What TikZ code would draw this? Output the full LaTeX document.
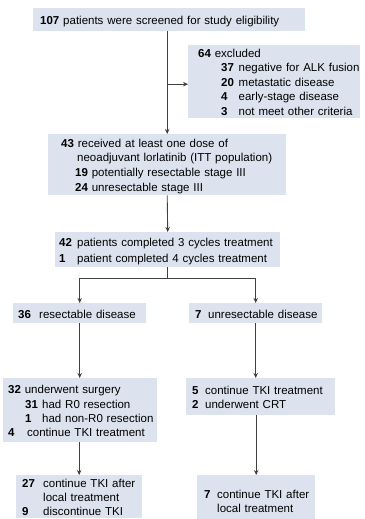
\documentclass[tikz,border=0pt]{standalone}
\usepackage{fontspec}
\setmainfont{Liberation Sans}
\usetikzlibrary{arrows.meta}
\definecolor{boxfill}{HTML}{DCE3EE}
\definecolor{linecol}{HTML}{404040}
\newcommand{\mystrut}{\rule[-2.2pt]{0pt}{14pt}}
\newcommand{\rowl}[3]{\mbox{\hspace*{#1}\textbf{#2} #3\mystrut}}
\newcommand{\rowc}[4]{\mbox{\hspace*{#1}\makebox[#2][l]{\textbf{#3}}#4\mystrut}}
\begin{document}
\begin{tikzpicture}[x=1pt,y=-1pt,
  box/.style={fill=boxfill, anchor=north west, inner sep=0pt, align=left,
    font=\fontsize{11.5}{14}\selectfont},
  conn/.style={draw=linecol, line width=0.9pt},
  arr/.style={conn, -{Stealth[length=5pt,width=4.5pt]}}]
\clip (0,0) rectangle (364,519);
\fill[white] (0,0) rectangle (364,519);

\node[box, text width=272pt, minimum height=23pt] (b1) at (33,8)
  {\rowl{7pt}{107}{patients were screened for study eligibility}};

\node[box, text width=172pt, minimum height=73pt] (excl) at (188,45)
  {\rowl{10pt}{64}{excluded}\\
   \rowc{33pt}{17.5pt}{37}{negative for ALK fusion}\\
   \rowc{33pt}{17.5pt}{20}{metastatic disease}\\
   \rowc{33pt}{17.5pt}{4}{early-stage disease}\\
   \rowc{33pt}{17.5pt}{3}{not meet other criteria}};

\node[box, text width=238pt, minimum height=61pt] (b2) at (48,134)
  {\rowl{13pt}{43}{received at least one dose of}\\
   \mbox{\hspace*{29pt}neoadjuvant lorlatinib (ITT population)\mystrut}\\
   \rowl{27pt}{19}{potentially resectable stage III}\\
   \rowl{27pt}{24}{unresectable stage III}};

\node[box, text width=225pt, minimum height=35pt] (b3) at (55,232)
  {\rowc{4pt}{18pt}{42}{patients completed 3 cycles treatment}\\
   \rowc{4pt}{18pt}{1}{patient completed 4 cycles treatment}};

\node[box, text width=133pt, minimum height=20pt] (b36) at (13,303)
  {\rowc{5pt}{21pt}{36}{resectable disease}};

\node[box, text width=133pt, minimum height=20pt] (b7u) at (189,303)
  {\rowc{6pt}{13pt}{7}{unresectable disease}};

\node[box, text width=154pt, minimum height=64pt] (b32) at (3,378)
  {\rowl{5pt}{32}{underwent surgery}\\
   \rowc{22pt}{17pt}{31}{had R0 resection}\\
   \rowc{22pt}{17pt}{1}{had non-R0 resection}\\
   \rowc{5pt}{19pt}{4}{continue TKI treatment}};

\node[box, text width=149pt, minimum height=37pt] (b5) at (186,378)
  {\rowc{6pt}{13pt}{5}{continue TKI treatment}\\
   \rowc{6pt}{13pt}{2}{underwent CRT}};

\node[box, text width=126pt, minimum height=43pt] (b27) at (16,475)
  {\rowc{6pt}{21pt}{27}{continue TKI after}\\
   \rowc{6pt}{21pt}{}{local treatment}\\
   \rowc{6pt}{21pt}{9}{discontinue TKI}};

\node[box, text width=118pt, minimum height=50pt] (b7b) at (197,475)
  {\rowc{7pt}{13pt}{7}{continue TKI after}\\
   \rowc{7pt}{13pt}{}{local treatment}};

% connectors
\coordinate (exin) at ([yshift=-2.5pt]excl.west);
\draw[arr] (b2.north |- b1.south) -- (b2.north);
\draw[arr] (b2.north |- exin) -- (exin);
\draw[arr] (b2.south) -- (b3.north);
\draw[arr] (b3.south) -- ++(0,11) -| (b36.north);
\draw[arr] (b3.south) -- ++(0,11) -| (b7u.north);
\draw[arr] (b36.south) -- (b36.south |- b32.north);
\draw[arr] (b7u.south) -- (b7u.south |- b5.north);
\draw[arr] (b27.north |- b32.south) -- (b27.north);
\draw[arr] (b7b.north |- b5.south) -- (b7b.north);
\end{tikzpicture}
\end{document}
